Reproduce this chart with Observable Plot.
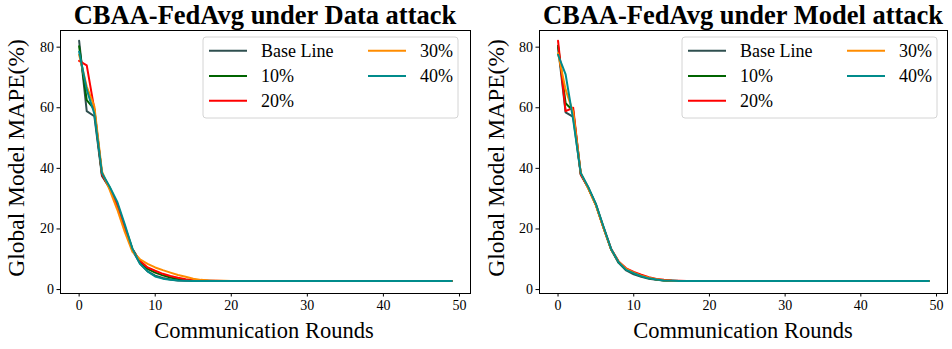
<!DOCTYPE html>
<html>
<head>
<meta charset="utf-8">
<script src="https://cdn.jsdelivr.net/npm/d3@7"></script>
<script src="https://cdn.jsdelivr.net/npm/@observablehq/plot@0.6"></script>
<style>
  html, body { margin: 0; padding: 0; background: white; }
  #wrap { position: relative; width: 952px; height: 349px; overflow: hidden; }
  .panel { position: absolute; top: 0; }
  #overlay { position: absolute; left: 0; top: 0; pointer-events: none; }
</style>
</head>
<body>
<div id="wrap"></div>
<script>
// ---- Data ----
const seriesNames = ["Base Line", "10%", "20%", "30%", "40%"];
const seriesColors = ["#2F4F4F", "#006400", "#FF0000", "#FF8C00", "#008B8B"];
const panelTitles = ["CBAA-FedAvg under Data attack", "CBAA-FedAvg under Model attack"];
const xTicks = [0, 10, 20, 30, 40, 50];
const yTicks = [0, 20, 40, 60, 80];
const xLabel = "Communication Rounds";
const yLabel = "Global Model MAPE(%)";

// Data attack panel
const dataBase = [
  82.1, 58.9, 57.2, 37.5, 33.5, 28.2, 20.5, 13.0, 8.6, 6.0,
  4.6, 3.8, 3.3, 3.0, 2.9, 2.9, 2.8, 2.8, 2.8, 2.8,
  2.8, 2.8, 2.8, 2.8, 2.8, 2.8, 2.8, 2.8, 2.8, 2.8,
  2.8, 2.8, 2.8, 2.8, 2.8, 2.8, 2.8, 2.8, 2.8, 2.8,
  2.8, 2.8, 2.8, 2.8, 2.8, 2.8, 2.8, 2.8, 2.8, 2.8];
const data10 = [
  80.3, 62.5, 59.5, 38.0, 33.8, 28.3, 20.8, 13.5, 9.2, 6.8,
  5.6, 4.7, 4.0, 3.5, 3.2, 3.0, 2.9, 2.9, 2.8, 2.8,
  2.8, 2.8, 2.8, 2.8, 2.8, 2.8, 2.8, 2.8, 2.8, 2.8,
  2.8, 2.8, 2.8, 2.8, 2.8, 2.8, 2.8, 2.8, 2.8, 2.8,
  2.8, 2.8, 2.8, 2.8, 2.8, 2.8, 2.8, 2.8, 2.8, 2.8];
const data20 = [
  75.5, 74.0, 59.5, 38.0, 33.5, 28.0, 20.3, 13.2, 9.5, 7.3,
  6.2, 5.2, 4.5, 3.9, 3.4, 3.1, 3.0, 2.9, 2.9, 2.8,
  2.8, 2.8, 2.8, 2.8, 2.8, 2.8, 2.8, 2.8, 2.8, 2.8,
  2.8, 2.8, 2.8, 2.8, 2.8, 2.8, 2.8, 2.8, 2.8, 2.8,
  2.8, 2.8, 2.8, 2.8, 2.8, 2.8, 2.8, 2.8, 2.8, 2.8];
const data30 = [
  77.5, 67.0, 60.5, 39.0, 33.0, 26.5, 19.0, 12.5, 10.0, 8.5,
  7.3, 6.4, 5.6, 4.8, 4.2, 3.6, 3.2, 3.0, 2.9, 2.9,
  2.8, 2.8, 2.8, 2.8, 2.8, 2.8, 2.8, 2.8, 2.8, 2.8,
  2.8, 2.8, 2.8, 2.8, 2.8, 2.8, 2.8, 2.8, 2.8, 2.8,
  2.8, 2.8, 2.8, 2.8, 2.8, 2.8, 2.8, 2.8, 2.8, 2.8];
const data40 = [
  78.5, 66.0, 58.0, 38.5, 34.0, 29.0, 21.5, 13.5, 8.5, 6.0,
  4.3, 3.6, 3.2, 3.0, 2.9, 2.8, 2.8, 2.8, 2.8, 2.8,
  2.8, 2.8, 2.8, 2.8, 2.8, 2.8, 2.8, 2.8, 2.8, 2.8,
  2.8, 2.8, 2.8, 2.8, 2.8, 2.8, 2.8, 2.8, 2.8, 2.8,
  2.8, 2.8, 2.8, 2.8, 2.8, 2.8, 2.8, 2.8, 2.8, 2.8];

// Model attack panel
const modelBase = [
  80.0, 58.5, 57.0, 38.0, 33.5, 28.0, 20.5, 13.3, 8.8, 6.3,
  5.0, 4.2, 3.6, 3.2, 3.0, 2.9, 2.8, 2.8, 2.8, 2.8,
  2.8, 2.8, 2.8, 2.8, 2.8, 2.8, 2.8, 2.8, 2.8, 2.8,
  2.8, 2.8, 2.8, 2.8, 2.8, 2.8, 2.8, 2.8, 2.8, 2.8,
  2.8, 2.8, 2.8, 2.8, 2.8, 2.8, 2.8, 2.8, 2.8, 2.8];
const model10 = [
  80.5, 61.5, 59.0, 38.2, 33.5, 28.0, 20.5, 13.3, 9.0, 6.6,
  5.4, 4.5, 3.8, 3.3, 3.0, 2.9, 2.8, 2.8, 2.8, 2.8,
  2.8, 2.8, 2.8, 2.8, 2.8, 2.8, 2.8, 2.8, 2.8, 2.8,
  2.8, 2.8, 2.8, 2.8, 2.8, 2.8, 2.8, 2.8, 2.8, 2.8,
  2.8, 2.8, 2.8, 2.8, 2.8, 2.8, 2.8, 2.8, 2.8, 2.8];
const model20 = [
  82.1, 58.9, 60.0, 38.0, 33.5, 28.0, 20.5, 13.5, 9.3, 7.0,
  5.8, 4.9, 4.1, 3.5, 3.2, 3.0, 2.9, 2.8, 2.8, 2.8,
  2.8, 2.8, 2.8, 2.8, 2.8, 2.8, 2.8, 2.8, 2.8, 2.8,
  2.8, 2.8, 2.8, 2.8, 2.8, 2.8, 2.8, 2.8, 2.8, 2.8,
  2.8, 2.8, 2.8, 2.8, 2.8, 2.8, 2.8, 2.8, 2.8, 2.8];
const model30 = [
  78.0, 66.0, 58.5, 38.5, 33.3, 27.8, 20.3, 13.3, 9.2, 6.8,
  5.6, 4.6, 3.9, 3.4, 3.1, 2.9, 2.8, 2.8, 2.8, 2.8,
  2.8, 2.8, 2.8, 2.8, 2.8, 2.8, 2.8, 2.8, 2.8, 2.8,
  2.8, 2.8, 2.8, 2.8, 2.8, 2.8, 2.8, 2.8, 2.8, 2.8,
  2.8, 2.8, 2.8, 2.8, 2.8, 2.8, 2.8, 2.8, 2.8, 2.8];
const model40 = [
  77.5, 71.0, 56.0, 38.5, 33.8, 28.3, 20.8, 13.5, 9.0, 6.5,
  5.4, 4.4, 3.7, 3.3, 3.0, 2.9, 2.8, 2.8, 2.8, 2.8,
  2.8, 2.8, 2.8, 2.8, 2.8, 2.8, 2.8, 2.8, 2.8, 2.8,
  2.8, 2.8, 2.8, 2.8, 2.8, 2.8, 2.8, 2.8, 2.8, 2.8,
  2.8, 2.8, 2.8, 2.8, 2.8, 2.8, 2.8, 2.8, 2.8, 2.8];

const panelsData = [
  [dataBase, data10, data20, data30, data40],
  [modelBase, model10, model20, model30, model40]
];

// ---- Layout ----
const W = 952, H = 349, PW = 476;
const FONT = "'Liberation Serif', 'Times New Roman', serif";
const panelLayout = [
  {left: 0,   marginLeft: 60, marginRight: 6},
  {left: 476, marginLeft: 63, marginRight: 5}
];
const wrap = document.getElementById("wrap");

panelsData.forEach((arrs, p) => {
  const L = panelLayout[p];
  const marks = [];
  arrs.forEach((arr, s) => {
    const rows = arr.map((v, i) => ({round: i, value: v}));
    marks.push(Plot.line(rows, {x: "round", y: "value", stroke: seriesColors[s], strokeWidth: 2}));
  });
  marks.push(Plot.axisX({ticks: xTicks, tickSize: 3.5, tickPadding: 3, label: null, tickFormat: d => String(d)}));
  marks.push(Plot.axisY({ticks: yTicks, tickSize: 3.5, tickPadding: 3, label: null, tickFormat: d => String(d)}));
  marks.push(Plot.frame({stroke: "black", strokeWidth: 1}));
  const chart = Plot.plot({
    width: PW, height: H,
    marginLeft: L.marginLeft, marginRight: L.marginRight, marginTop: 30, marginBottom: 56,
    x: {domain: [-2.45, 51.45]},
    y: {domain: [-1.3, 85.5]},
    style: {fontFamily: FONT, fontSize: "14px", color: "black", background: "transparent"},
    marks
  });
  chart.classList.add("panel");
  chart.style.left = L.left + "px";
  wrap.appendChild(chart);
});

// ---- Overlay: titles, axis labels, legends ----
const ns = "http://www.w3.org/2000/svg";
const ov = d3.select(wrap).append("svg").attr("id", "overlay").attr("width", W).attr("height", H)
  .attr("xmlns", ns).style("font-family", FONT);

const titleX = [265, 743];
const xLabelX = [264, 743];
const yLabelX = [24, 504];
const legendLeft = [203, 682];

[0, 1].forEach(p => {
  ov.append("text").attr("x", titleX[p]).attr("y", 24).attr("text-anchor", "middle")
    .attr("font-weight", "bold").attr("font-size", 26.5).attr("fill", "black").text(panelTitles[p]);
  ov.append("text").attr("x", xLabelX[p]).attr("y", 338).attr("text-anchor", "middle")
    .attr("font-size", 22.5).attr("fill", "black").text(xLabel);
  ov.append("text").attr("transform", `translate(${yLabelX[p]},158) rotate(-90)`).attr("text-anchor", "middle")
    .attr("font-size", 23.5).attr("fill", "black").text(yLabel);

  const lx = legendLeft[p];
  const g = ov.append("g");
  g.append("rect").attr("x", lx).attr("y", 37).attr("width", 255).attr("height", 81).attr("rx", 3)
    .attr("fill", "white").attr("fill-opacity", 0.8).attr("stroke", "#d4d4d4").attr("stroke-width", 1);
  const rowsY = [50.7, 76, 100.7];
  seriesNames.forEach((name, s) => {
    const col = s < 3 ? 0 : 1;
    const row = s < 3 ? s : s - 3;
    const x1 = lx + 6 + col * 159;
    const y = rowsY[row];
    g.append("line").attr("x1", x1).attr("x2", x1 + 38).attr("y1", y).attr("y2", y)
      .attr("stroke", seriesColors[s]).attr("stroke-width", 2);
    g.append("text").attr("x", x1 + 52).attr("y", y + 6).attr("font-size", 18).attr("fill", "black").text(name);
  });
});
</script>
</body>
</html>
